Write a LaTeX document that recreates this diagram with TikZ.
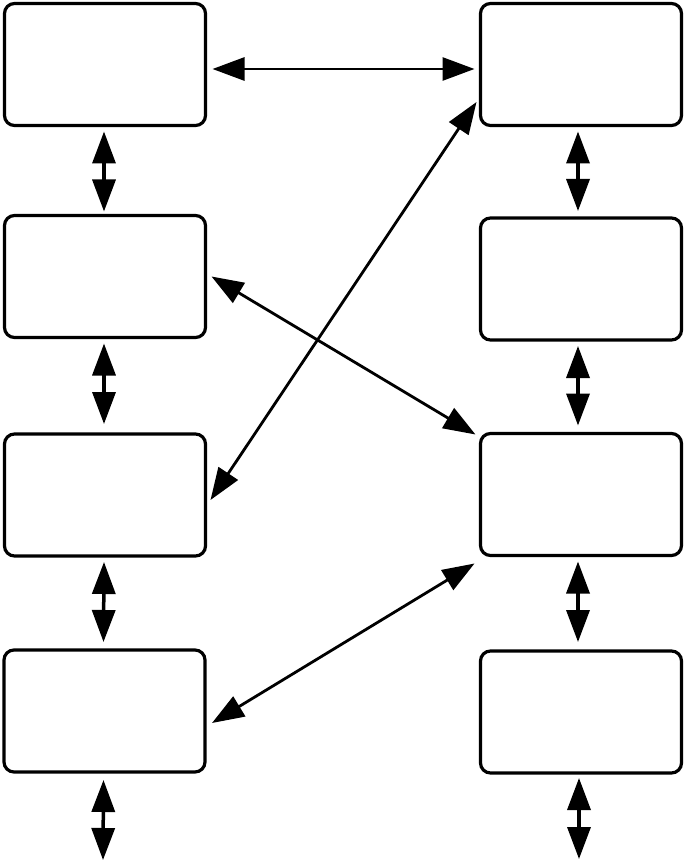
\documentclass[tikz,border=0pt]{standalone}
\usetikzlibrary{arrows.meta,calc}
\begin{document}
\begin{tikzpicture}[x=1pt,y=-1pt,
  blk/.style={draw=black,line width=3.2pt,rounded corners=10pt,minimum width=201pt,minimum height=122pt,inner sep=0pt,outer sep=0pt,fill=white},
  biarrow/.style={line width=3.5pt,{Triangle[length=32pt,width=23pt]}-{Triangle[length=32pt,width=23pt]}},
  darrow/.style={line width=2.8pt,{Triangle[length=32pt,width=23pt]}-{Triangle[length=32pt,width=23pt]}}]
\useasboundingbox (0,0) rectangle (685,861);
\node[blk] (L1) at (105,64.5) {};
\node[blk] (L2) at (105,276.5) {};
\node[blk] (L3) at (105,495) {};
\node[blk] (L4) at (104.5,711) {};
\node[blk] (R1) at (581,64.5) {};
\node[blk] (R2) at (581,279) {};
\node[blk] (R3) at (581,494.5) {};
\node[blk] (R4) at (581,712) {};
\coordinate (LB) at (103,860);
\coordinate (RB) at (579,859);
% vertical arrows
\draw[biarrow] ($(L1.south)+(-1,6)$) -- ($(L2.north)+(-1,-4)$);
\draw[biarrow] ($(L2.south)+(-1,6)$) -- ($(L3.north)+(-1,-10)$);
\draw[biarrow] ($(L3.south)+(-1,6)$) -- ($(L4.north)+(-1,-8)$);
\draw[biarrow] ($(L4.south)+(-1,8)$) -- (LB);
\draw[biarrow] ($(R1.south)+(-3,6)$) -- ($(R2.north)+(-3,-7)$);
\draw[biarrow] ($(R2.south)+(-3,6)$) -- ($(R3.north)+(-3,-8)$);
\draw[biarrow] ($(R3.south)+(-3,6)$) -- ($(R4.north)+(-3,-9)$);
\draw[biarrow] ($(R4.south)+(-2,5)$) -- (RB);
% horizontal and diagonal arrows
\draw[darrow] ($(L1.east)+(7,4.5)$) -- ($(R1.west)+(-6,4.5)$);
\draw[darrow] ($(R1.west)+(-4,37.5)$) -- ($(L3.east)+(5,5)$);
\draw[darrow] ($(L2.east)+(6,0)$) -- ($(R3.north west)+(-5,1)$);
\draw[darrow] ($(R3.south west)+(-6,8)$) -- ($(L4.east)+(7,12)$);
\end{tikzpicture}
\end{document}
